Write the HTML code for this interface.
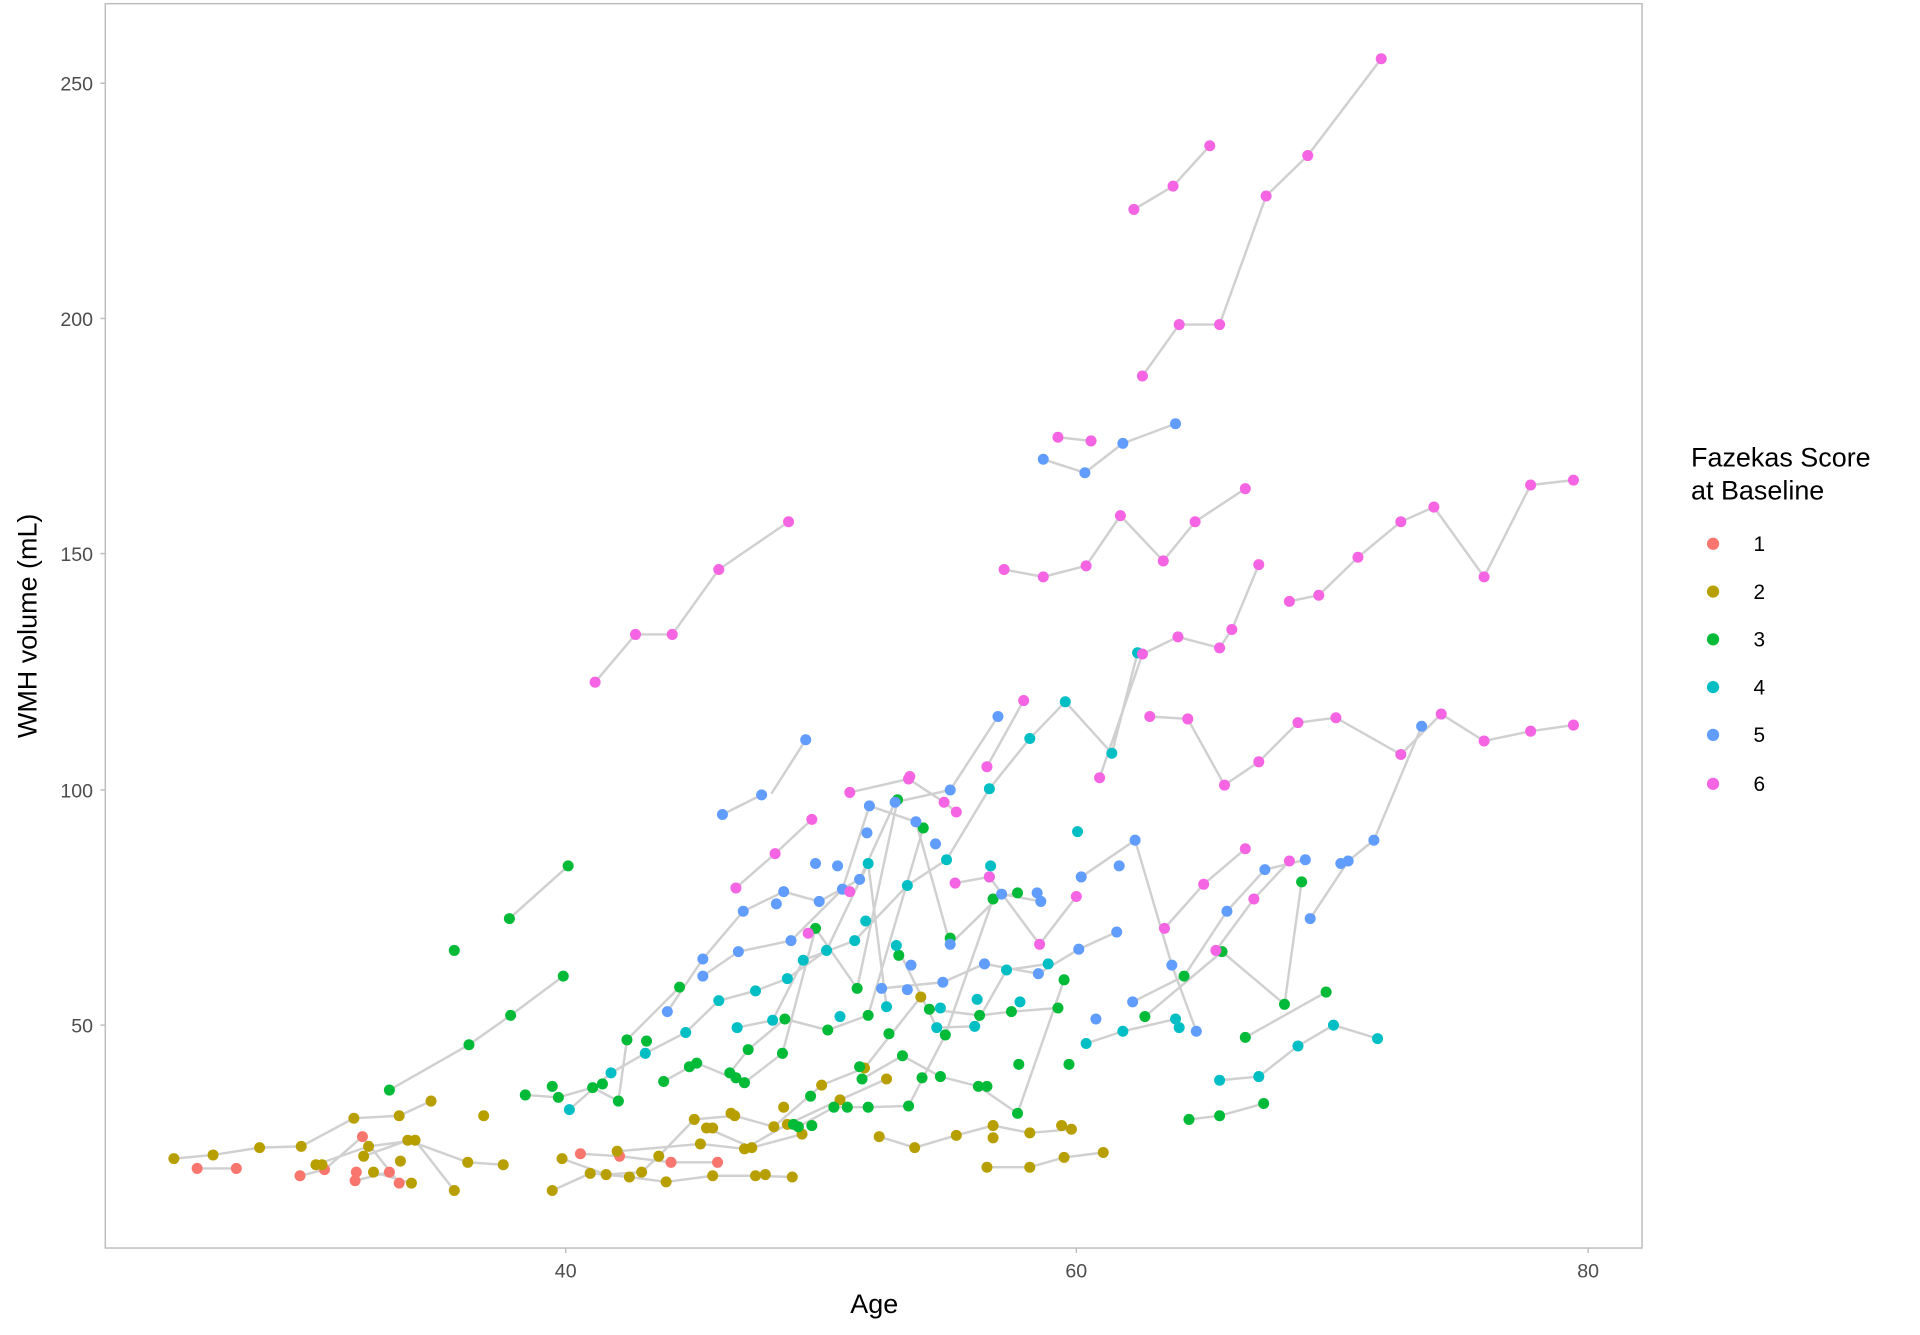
<!DOCTYPE html>
<html><head><meta charset="utf-8"><style>html,body{margin:0;padding:0;background:#fff}svg{display:block}text{font-family:"Liberation Sans",Arial,sans-serif}</style></head>
<body>
<svg width="1920" height="1335" viewBox="0 0 1568 1090" preserveAspectRatio="none" xmlns="http://www.w3.org/2000/svg">
<rect x="0" y="0" width="1568" height="1090" fill="#fff"/>
<rect x="86" y="3" width="1255" height="1016" fill="none" stroke="#bdbdbd" stroke-width="1.2"/>
<g stroke="#bdbdbd" stroke-width="1.2">
<line x1="82" y1="68" x2="86" y2="68"/><line x1="82" y1="260" x2="86" y2="260"/><line x1="82" y1="452" x2="86" y2="452"/><line x1="82" y1="645" x2="86" y2="645"/><line x1="82" y1="837" x2="86" y2="837"/>
<line x1="462" y1="1019" x2="462" y2="1023"/><line x1="879" y1="1019" x2="879" y2="1023"/><line x1="1297" y1="1019" x2="1297" y2="1023"/>
</g>
<g fill="#4d4d4d" font-size="16" text-anchor="end">
<text x="76" y="74">250</text><text x="76" y="266">200</text><text x="76" y="458">150</text><text x="76" y="651">100</text><text x="76" y="843">50</text>
</g>
<g fill="#4d4d4d" font-size="16" text-anchor="middle">
<text x="462" y="1043">40</text><text x="879" y="1043">60</text><text x="1297" y="1043">80</text>
</g>
<text x="714" y="1072" font-size="22" text-anchor="middle">Age</text>
<text transform="translate(30,511) rotate(-90)" font-size="22" text-anchor="middle">WMH volume (mL)</text>
<g fill="none" stroke="#d0d0d0" stroke-width="2">
<polyline points="926,171 958,152 988,119"/>
<polyline points="933,307 963,265 996,265 1034,160 1068,127 1128,48"/>
<polyline points="486,557 519,518 549,518 587,465 644,426"/>
<polyline points="820,465 852,471 887,462 915,421 950,458 976,426 1017,399"/>
<polyline points="864,357 891,360"/>
<polyline points="898,635 933,534 962,520 996,529 1006,514 1028,461"/>
<polyline points="939,585 970,587 1000,641 1028,622 1060,590 1091,586 1144,616 1177,583 1212,605 1250,597 1285,592"/>
<polyline points="1053,491 1077,486 1109,455 1144,426 1171,414 1212,471 1250,396 1285,392"/>
<polyline points="601,725 633,697 663,669"/>
<polyline points="694,647 742,636 771,655 781,663"/>
<polyline points="780,721 808,716 849,771 879,732"/>
<polyline points="806,626 836,572"/>
<polyline points="951,758 983,722 1017,693"/>
<polyline points="993,776 1024,734 1053,703"/>
<polyline points="852,375 886,386 917,362 960,346"/>
<polyline points="590,665 622,649"/><polyline points="630,648 658,604"/>
<polyline points="545,826 574,783 607,744 640,728 669,736 702,718 731,655 776,645 815,585"/>
<polyline points="574,797 603,777 646,768 688,726 710,658 748,671 776,771 818,730 850,736"/>
<polyline points="720,807 770,802 804,787 848,795 881,775 912,761"/>
<polyline points="883,716 927,686 957,788 977,842"/>
<polyline points="925,818 967,797 1002,744 1033,710 1066,702"/>
<polyline points="1070,750 1101,703 1122,686 1161,593"/>
<polyline points="465,906 499,876 527,860 560,843 587,817 617,809 643,799 675,776 709,705 724,822"/>
<polyline points="602,839 631,833 656,784 698,768 741,723 773,702 808,644 841,603 870,573 908,615 929,533"/>
<polyline points="732,772 765,839 796,838 822,792 856,787"/>
<polyline points="887,852 917,842 960,832 963,839"/>
<polyline points="996,882 1028,879 1060,854 1089,837 1125,848"/>
<polyline points="318,890 383,853 417,829 460,797"/><polyline points="416,750 464,707"/>
<polyline points="429,894 456,896 484,888 505,899 512,849 555,806"/>
<polyline points="542,883 569,868 608,884 639,860 666,758 700,807 733,653"/>
<polyline points="596,876 611,857 641,832 676,841 709,829 754,676"/>
<polyline points="652,920 681,904 709,904 742,903 772,845 811,734 831,729"/>
<polyline points="704,881 737,862 768,879 799,887 831,909 869,800"/>
<polyline points="759,824 800,829 826,826 864,823"/>
<polyline points="935,830 998,777 1049,820 1063,720"/>
<polyline points="971,914 996,911 1032,901"/><polyline points="1017,847 1083,810"/>
<polyline points="142,946 174,943 212,937 246,936 289,913 326,911 352,899"/>
<polyline points="258,951 301,936 339,931 371,972"/><polyline points="297,944 333,931 382,949 411,951"/>
<polyline points="305,957 336,966"/><polyline points="451,972 482,958 514,961 544,965 582,960 617,960 647,961"/>
<polyline points="459,946 495,959 524,957 538,944 567,914 600,911 632,920 671,886 706,872 752,814"/>
<polyline points="504,940 572,934 608,938 643,918 686,898 724,881"/>
<polyline points="577,921 614,937 655,926"/>
<polyline points="718,928 747,937 781,927 811,919 841,925 875,922"/>
<polyline points="806,953 841,953 869,945 901,941"/>
<polyline points="161,954 193,954"/><polyline points="245,960 265,955 296,928 326,966"/><polyline points="290,964 318,957"/>
<polyline points="474,942 506,944 548,949 586,949"/>
</g>
<g fill="#F8766D">
<circle cx="161" cy="954" r="4.5"/><circle cx="193" cy="954" r="4.5"/><circle cx="245" cy="960" r="4.5"/><circle cx="265" cy="955" r="4.5"/><circle cx="290" cy="964" r="4.5"/><circle cx="291" cy="957" r="4.5"/><circle cx="296" cy="928" r="4.5"/><circle cx="318" cy="957" r="4.5"/><circle cx="326" cy="966" r="4.5"/><circle cx="474" cy="942" r="4.5"/><circle cx="506" cy="944" r="4.5"/><circle cx="548" cy="949" r="4.5"/><circle cx="586" cy="949" r="4.5"/>
</g>
<g fill="#B79F00">
<circle cx="142" cy="946" r="4.5"/><circle cx="174" cy="943" r="4.5"/><circle cx="212" cy="937" r="4.5"/><circle cx="246" cy="936" r="4.5"/><circle cx="258" cy="951" r="4.5"/><circle cx="263" cy="951" r="4.5"/><circle cx="289" cy="913" r="4.5"/><circle cx="326" cy="911" r="4.5"/><circle cx="297" cy="944" r="4.5"/><circle cx="305" cy="957" r="4.5"/><circle cx="301" cy="936" r="4.5"/><circle cx="327" cy="948" r="4.5"/><circle cx="333" cy="931" r="4.5"/><circle cx="339" cy="931" r="4.5"/><circle cx="336" cy="966" r="4.5"/><circle cx="352" cy="899" r="4.5"/><circle cx="371" cy="972" r="4.5"/><circle cx="382" cy="949" r="4.5"/><circle cx="395" cy="911" r="4.5"/><circle cx="411" cy="951" r="4.5"/><circle cx="451" cy="972" r="4.5"/><circle cx="459" cy="946" r="4.5"/><circle cx="482" cy="958" r="4.5"/><circle cx="495" cy="959" r="4.5"/><circle cx="504" cy="940" r="4.5"/><circle cx="514" cy="961" r="4.5"/><circle cx="524" cy="957" r="4.5"/><circle cx="538" cy="944" r="4.5"/><circle cx="544" cy="965" r="4.5"/><circle cx="567" cy="914" r="4.5"/><circle cx="572" cy="934" r="4.5"/><circle cx="577" cy="921" r="4.5"/><circle cx="582" cy="921" r="4.5"/><circle cx="597" cy="909" r="4.5"/><circle cx="600" cy="911" r="4.5"/><circle cx="582" cy="960" r="4.5"/><circle cx="608" cy="938" r="4.5"/><circle cx="614" cy="937" r="4.5"/><circle cx="617" cy="960" r="4.5"/><circle cx="625" cy="959" r="4.5"/><circle cx="632" cy="920" r="4.5"/><circle cx="640" cy="904" r="4.5"/><circle cx="643" cy="918" r="4.5"/><circle cx="647" cy="961" r="4.5"/><circle cx="655" cy="926" r="4.5"/><circle cx="671" cy="886" r="4.5"/><circle cx="686" cy="898" r="4.5"/><circle cx="706" cy="872" r="4.5"/><circle cx="724" cy="881" r="4.5"/><circle cx="718" cy="928" r="4.5"/><circle cx="747" cy="937" r="4.5"/><circle cx="752" cy="814" r="4.5"/><circle cx="781" cy="927" r="4.5"/><circle cx="806" cy="953" r="4.5"/><circle cx="811" cy="919" r="4.5"/><circle cx="811" cy="929" r="4.5"/><circle cx="841" cy="953" r="4.5"/><circle cx="841" cy="925" r="4.5"/><circle cx="867" cy="919" r="4.5"/><circle cx="869" cy="945" r="4.5"/><circle cx="875" cy="922" r="4.5"/><circle cx="901" cy="941" r="4.5"/>
</g>
<g fill="#00BA38">
<circle cx="318" cy="890" r="4.5"/><circle cx="371" cy="776" r="4.5"/><circle cx="383" cy="853" r="4.5"/><circle cx="416" cy="750" r="4.5"/><circle cx="417" cy="829" r="4.5"/><circle cx="429" cy="894" r="4.5"/><circle cx="451" cy="887" r="4.5"/><circle cx="456" cy="896" r="4.5"/><circle cx="464" cy="707" r="4.5"/><circle cx="460" cy="797" r="4.5"/><circle cx="484" cy="888" r="4.5"/><circle cx="492" cy="885" r="4.5"/><circle cx="505" cy="899" r="4.5"/><circle cx="512" cy="849" r="4.5"/><circle cx="528" cy="850" r="4.5"/><circle cx="542" cy="883" r="4.5"/><circle cx="555" cy="806" r="4.5"/><circle cx="563" cy="871" r="4.5"/><circle cx="569" cy="868" r="4.5"/><circle cx="596" cy="876" r="4.5"/><circle cx="601" cy="880" r="4.5"/><circle cx="608" cy="884" r="4.5"/><circle cx="611" cy="857" r="4.5"/><circle cx="639" cy="860" r="4.5"/><circle cx="641" cy="832" r="4.5"/><circle cx="648" cy="918" r="4.5"/><circle cx="652" cy="920" r="4.5"/><circle cx="663" cy="919" r="4.5"/><circle cx="662" cy="895" r="4.5"/><circle cx="666" cy="758" r="4.5"/><circle cx="676" cy="841" r="4.5"/><circle cx="681" cy="904" r="4.5"/><circle cx="692" cy="904" r="4.5"/><circle cx="700" cy="807" r="4.5"/><circle cx="702" cy="871" r="4.5"/><circle cx="704" cy="881" r="4.5"/><circle cx="709" cy="904" r="4.5"/><circle cx="709" cy="829" r="4.5"/><circle cx="726" cy="844" r="4.5"/><circle cx="733" cy="653" r="4.5"/><circle cx="734" cy="780" r="4.5"/><circle cx="737" cy="862" r="4.5"/><circle cx="742" cy="903" r="4.5"/><circle cx="753" cy="880" r="4.5"/><circle cx="754" cy="676" r="4.5"/><circle cx="759" cy="824" r="4.5"/><circle cx="768" cy="879" r="4.5"/><circle cx="772" cy="845" r="4.5"/><circle cx="776" cy="766" r="4.5"/><circle cx="799" cy="887" r="4.5"/><circle cx="800" cy="829" r="4.5"/><circle cx="806" cy="887" r="4.5"/><circle cx="811" cy="734" r="4.5"/><circle cx="826" cy="826" r="4.5"/><circle cx="831" cy="909" r="4.5"/><circle cx="831" cy="729" r="4.5"/><circle cx="832" cy="869" r="4.5"/><circle cx="864" cy="823" r="4.5"/><circle cx="869" cy="800" r="4.5"/><circle cx="873" cy="869" r="4.5"/><circle cx="935" cy="830" r="4.5"/><circle cx="967" cy="797" r="4.5"/><circle cx="971" cy="914" r="4.5"/><circle cx="996" cy="911" r="4.5"/><circle cx="998" cy="777" r="4.5"/><circle cx="1017" cy="847" r="4.5"/><circle cx="1032" cy="901" r="4.5"/><circle cx="1049" cy="820" r="4.5"/><circle cx="1063" cy="720" r="4.5"/><circle cx="1083" cy="810" r="4.5"/>
</g>
<g fill="#00BFC4">
<circle cx="465" cy="906" r="4.5"/><circle cx="499" cy="876" r="4.5"/><circle cx="527" cy="860" r="4.5"/><circle cx="560" cy="843" r="4.5"/><circle cx="587" cy="817" r="4.5"/><circle cx="602" cy="839" r="4.5"/><circle cx="617" cy="809" r="4.5"/><circle cx="631" cy="833" r="4.5"/><circle cx="643" cy="799" r="4.5"/><circle cx="656" cy="784" r="4.5"/><circle cx="675" cy="776" r="4.5"/><circle cx="686" cy="830" r="4.5"/><circle cx="698" cy="768" r="4.5"/><circle cx="707" cy="752" r="4.5"/><circle cx="709" cy="705" r="4.5"/><circle cx="724" cy="822" r="4.5"/><circle cx="732" cy="772" r="4.5"/><circle cx="741" cy="723" r="4.5"/><circle cx="765" cy="839" r="4.5"/><circle cx="768" cy="823" r="4.5"/><circle cx="773" cy="702" r="4.5"/><circle cx="796" cy="838" r="4.5"/><circle cx="798" cy="816" r="4.5"/><circle cx="808" cy="644" r="4.5"/><circle cx="809" cy="707" r="4.5"/><circle cx="822" cy="792" r="4.5"/><circle cx="833" cy="818" r="4.5"/><circle cx="841" cy="603" r="4.5"/><circle cx="856" cy="787" r="4.5"/><circle cx="870" cy="573" r="4.5"/><circle cx="880" cy="679" r="4.5"/><circle cx="887" cy="852" r="4.5"/><circle cx="908" cy="615" r="4.5"/><circle cx="917" cy="842" r="4.5"/><circle cx="929" cy="533" r="4.5"/><circle cx="960" cy="832" r="4.5"/><circle cx="963" cy="839" r="4.5"/><circle cx="996" cy="882" r="4.5"/><circle cx="1028" cy="879" r="4.5"/><circle cx="1060" cy="854" r="4.5"/><circle cx="1089" cy="837" r="4.5"/><circle cx="1125" cy="848" r="4.5"/>
</g>
<g fill="#619CFF">
<circle cx="545" cy="826" r="4.5"/><circle cx="574" cy="797" r="4.5"/><circle cx="574" cy="783" r="4.5"/><circle cx="590" cy="665" r="4.5"/><circle cx="603" cy="777" r="4.5"/><circle cx="607" cy="744" r="4.5"/><circle cx="622" cy="649" r="4.5"/><circle cx="634" cy="738" r="4.5"/><circle cx="640" cy="728" r="4.5"/><circle cx="646" cy="768" r="4.5"/><circle cx="658" cy="604" r="4.5"/><circle cx="666" cy="705" r="4.5"/><circle cx="669" cy="736" r="4.5"/><circle cx="684" cy="707" r="4.5"/><circle cx="688" cy="726" r="4.5"/><circle cx="702" cy="718" r="4.5"/><circle cx="708" cy="680" r="4.5"/><circle cx="710" cy="658" r="4.5"/><circle cx="720" cy="807" r="4.5"/><circle cx="731" cy="655" r="4.5"/><circle cx="741" cy="808" r="4.5"/><circle cx="744" cy="788" r="4.5"/><circle cx="748" cy="671" r="4.5"/><circle cx="764" cy="689" r="4.5"/><circle cx="770" cy="802" r="4.5"/><circle cx="776" cy="645" r="4.5"/><circle cx="776" cy="771" r="4.5"/><circle cx="804" cy="787" r="4.5"/><circle cx="808" cy="716" r="4.5"/><circle cx="815" cy="585" r="4.5"/><circle cx="818" cy="730" r="4.5"/><circle cx="847" cy="729" r="4.5"/><circle cx="848" cy="795" r="4.5"/><circle cx="850" cy="736" r="4.5"/><circle cx="852" cy="375" r="4.5"/><circle cx="881" cy="775" r="4.5"/><circle cx="883" cy="716" r="4.5"/><circle cx="886" cy="386" r="4.5"/><circle cx="895" cy="832" r="4.5"/><circle cx="912" cy="761" r="4.5"/><circle cx="914" cy="707" r="4.5"/><circle cx="917" cy="362" r="4.5"/><circle cx="925" cy="818" r="4.5"/><circle cx="927" cy="686" r="4.5"/><circle cx="957" cy="788" r="4.5"/><circle cx="960" cy="346" r="4.5"/><circle cx="977" cy="842" r="4.5"/><circle cx="1002" cy="744" r="4.5"/><circle cx="1033" cy="710" r="4.5"/><circle cx="1066" cy="702" r="4.5"/><circle cx="1070" cy="750" r="4.5"/><circle cx="1095" cy="705" r="4.5"/><circle cx="1101" cy="703" r="4.5"/><circle cx="1122" cy="686" r="4.5"/><circle cx="1161" cy="593" r="4.5"/>
</g>
<g fill="#F564E3">
<circle cx="926" cy="171" r="4.5"/><circle cx="958" cy="152" r="4.5"/><circle cx="988" cy="119" r="4.5"/><circle cx="933" cy="307" r="4.5"/><circle cx="963" cy="265" r="4.5"/><circle cx="996" cy="265" r="4.5"/><circle cx="1034" cy="160" r="4.5"/><circle cx="1068" cy="127" r="4.5"/><circle cx="1128" cy="48" r="4.5"/><circle cx="486" cy="557" r="4.5"/><circle cx="519" cy="518" r="4.5"/><circle cx="549" cy="518" r="4.5"/><circle cx="587" cy="465" r="4.5"/><circle cx="644" cy="426" r="4.5"/><circle cx="820" cy="465" r="4.5"/><circle cx="852" cy="471" r="4.5"/><circle cx="887" cy="462" r="4.5"/><circle cx="915" cy="421" r="4.5"/><circle cx="950" cy="458" r="4.5"/><circle cx="976" cy="426" r="4.5"/><circle cx="1017" cy="399" r="4.5"/><circle cx="864" cy="357" r="4.5"/><circle cx="891" cy="360" r="4.5"/><circle cx="898" cy="635" r="4.5"/><circle cx="933" cy="534" r="4.5"/><circle cx="962" cy="520" r="4.5"/><circle cx="996" cy="529" r="4.5"/><circle cx="1006" cy="514" r="4.5"/><circle cx="1028" cy="461" r="4.5"/><circle cx="939" cy="585" r="4.5"/><circle cx="970" cy="587" r="4.5"/><circle cx="1000" cy="641" r="4.5"/><circle cx="1028" cy="622" r="4.5"/><circle cx="1060" cy="590" r="4.5"/><circle cx="1091" cy="586" r="4.5"/><circle cx="1144" cy="616" r="4.5"/><circle cx="1177" cy="583" r="4.5"/><circle cx="1212" cy="605" r="4.5"/><circle cx="1250" cy="597" r="4.5"/><circle cx="1285" cy="592" r="4.5"/><circle cx="1053" cy="491" r="4.5"/><circle cx="1077" cy="486" r="4.5"/><circle cx="1109" cy="455" r="4.5"/><circle cx="1144" cy="426" r="4.5"/><circle cx="1171" cy="414" r="4.5"/><circle cx="1212" cy="471" r="4.5"/><circle cx="1250" cy="396" r="4.5"/><circle cx="1285" cy="392" r="4.5"/><circle cx="601" cy="725" r="4.5"/><circle cx="633" cy="697" r="4.5"/><circle cx="663" cy="669" r="4.5"/><circle cx="694" cy="647" r="4.5"/><circle cx="742" cy="636" r="4.5"/><circle cx="771" cy="655" r="4.5"/><circle cx="781" cy="663" r="4.5"/><circle cx="780" cy="721" r="4.5"/><circle cx="808" cy="716" r="4.5"/><circle cx="806" cy="626" r="4.5"/><circle cx="836" cy="572" r="4.5"/><circle cx="849" cy="771" r="4.5"/><circle cx="879" cy="732" r="4.5"/><circle cx="951" cy="758" r="4.5"/><circle cx="983" cy="722" r="4.5"/><circle cx="1017" cy="693" r="4.5"/><circle cx="993" cy="776" r="4.5"/><circle cx="1024" cy="734" r="4.5"/><circle cx="1053" cy="703" r="4.5"/><circle cx="660" cy="762" r="4.5"/><circle cx="694" cy="728" r="4.5"/><circle cx="743" cy="634" r="4.5"/>
</g>
<text x="1381" y="381" font-size="22">Fazekas Score</text>
<text x="1381" y="408" font-size="22">at Baseline</text>
<g font-size="17" fill="#000">
<circle cx="1399" cy="444" r="5" fill="#F8766D"/><text x="1432" y="450">1</text>
<circle cx="1399" cy="483" r="5" fill="#B79F00"/><text x="1432" y="489">2</text>
<circle cx="1399" cy="522" r="5" fill="#00BA38"/><text x="1432" y="528">3</text>
<circle cx="1399" cy="561" r="5" fill="#00BFC4"/><text x="1432" y="567">4</text>
<circle cx="1399" cy="600" r="5" fill="#619CFF"/><text x="1432" y="606">5</text>
<circle cx="1399" cy="640" r="5" fill="#F564E3"/><text x="1432" y="646">6</text>
</g>
</svg>
</body></html>
